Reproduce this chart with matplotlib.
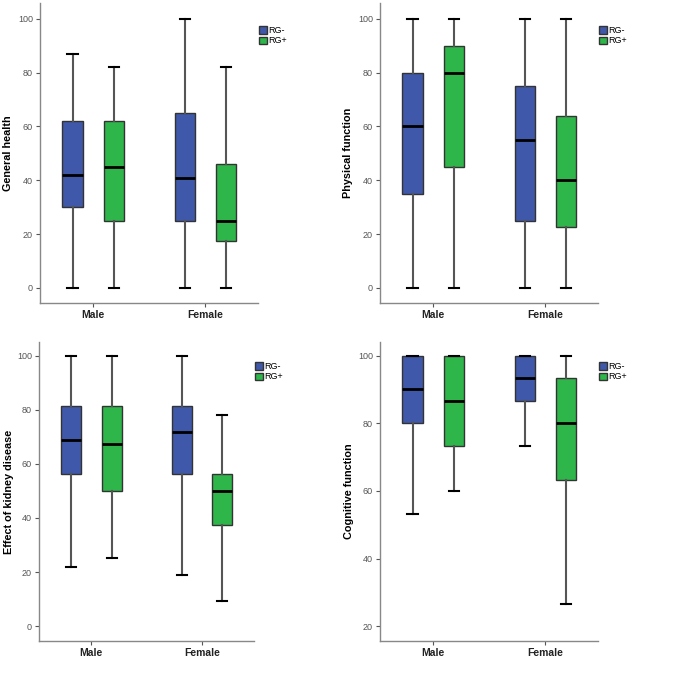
import matplotlib
matplotlib.use("Agg")
import matplotlib.pyplot as plt
from matplotlib.patches import Patch

plt.rcParams['font.family'] = ['Liberation Sans', 'DejaVu Sans']

categories = ["Male", "Female"]
groups = ["RG-", "RG+"]
colors = ["#3F58AA", "#2EB64A"]

# each entry: [whislo, q1, median, q3, whishi] for (Male RG-, Male RG+, Female RG-, Female RG+)
general_health = [[0, 30, 42, 62, 87], [0, 25, 45, 62, 82],
                  [0, 25, 41, 65, 100], [0, 17.5, 25, 46, 82]]
physical_function = [[0, 35, 60, 80, 100], [0, 45, 80, 90, 100],
                     [0, 25, 55, 75, 100], [0, 22.5, 40, 64, 100]]
kidney_effect = [[21.9, 56.25, 68.75, 81.25, 100], [25, 50, 67.2, 81.25, 100],
                 [18.75, 56.25, 71.9, 81.25, 100], [9.4, 37.5, 50, 56.25, 78.1]]
cognitive = [[53.3, 80, 90, 100, 100], [60, 73.3, 86.7, 100, 100],
             [73.3, 86.7, 93.3, 100, 100], [26.7, 63.3, 80, 93.3, 100]]

panels = [
    ("General health", general_health, [0, 20, 40, 60, 80, 100], (-5.6, 105.9)),
    ("Physical function", physical_function, [0, 20, 40, 60, 80, 100], (-5.6, 105.9)),
    ("Effect of kidney disease", kidney_effect, [0, 20, 40, 60, 80, 100], (-5.5, 105.0)),
    ("Cognitive function", cognitive, [20, 40, 60, 80, 100], (15.7, 104.0)),
]

W = H = 685
rects = [(40, 3, 258, 303), (380, 3, 598, 303), (39, 342, 254, 641), (380, 342, 598, 641)]
label_x = [13, 353, 14, 354]
legend_y = [0.935, 0.935, 0.945, 0.945]

fig = plt.figure(figsize=(6.85, 6.85), dpi=100)
offset = 0.183
bw = 0.18
for (label, data, yt, ylim), (x0, y0, x1, y1), lx, ly in zip(panels, rects, label_x, legend_y):
    ax = fig.add_axes([x0 / W, 1 - y1 / H, (x1 - x0) / W, (y1 - y0) / H])
    stats = []
    positions = []
    for ci, cat in enumerate(categories):
        for gi, g in enumerate(groups):
            v = data[ci * 2 + gi]
            stats.append(dict(whislo=v[0], q1=v[1], med=v[2], q3=v[3], whishi=v[4], fliers=[]))
            positions.append(ci + (offset if gi else -offset))
    bp = ax.bxp(stats, positions=positions, widths=bw, patch_artist=True, showfliers=False,
                boxprops=dict(edgecolor="#333333", linewidth=1.0),
                medianprops=dict(color="black", linewidth=2.0),
                whiskerprops=dict(color="#555555", linewidth=1.5),
                capprops=dict(color="black", linewidth=1.5),
                capwidths=bw * 0.5)
    for i, patch in enumerate(bp['boxes']):
        patch.set_facecolor(colors[i % 2])
        patch.set_zorder(2)
    ax.set_xlim(-0.473, 1.47)
    ax.set_ylim(*ylim)
    ax.set_xticks([0, 1])
    ax.set_xticklabels(categories, fontsize=7.5, fontweight="bold", color="#222222")
    ax.set_yticks(yt)
    ax.set_yticklabels([str(t) for t in yt], fontsize=6.5, color="#555555")
    ax.tick_params(axis="both", length=3, width=0.8, color="#555555", pad=2)
    ax.set_ylabel(label, fontsize=7.8, fontweight="bold")
    ax.yaxis.set_label_coords((lx - x0) / (x1 - x0), 0.5)
    for s in ["top", "right"]:
        ax.spines[s].set_visible(False)
    for s in ["left", "bottom"]:
        ax.spines[s].set_color("#888888")
        ax.spines[s].set_linewidth(1.0)
    handles = [Patch(facecolor=colors[i], edgecolor="#333333", label=groups[i]) for i in range(2)]
    ax.legend(handles=handles, loc="upper left", bbox_to_anchor=(0.99, ly), frameon=False,
              fontsize=6.5, handlelength=0.8, handleheight=0.9, handletextpad=0.2,
              labelspacing=0.15, borderaxespad=0)

fig.savefig("out.png", dpi=100, facecolor="white")
